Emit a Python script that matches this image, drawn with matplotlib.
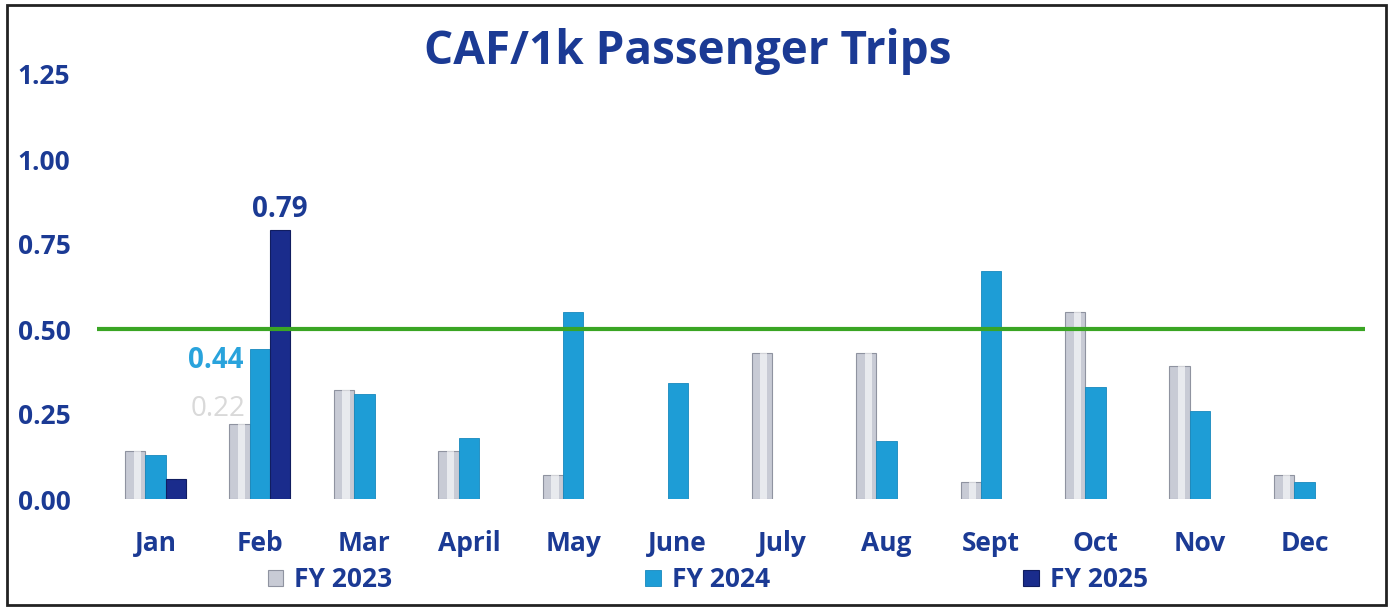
import numpy as np
import matplotlib
matplotlib.use("Agg")
from matplotlib import pyplot as plt
from matplotlib.patches import Rectangle

# data
months = ['Jan', 'Feb', 'Mar', 'April', 'May', 'June', 'July',
          'Aug', 'Sept', 'Oct', 'Nov', 'Dec']
fy2023 = [0.14, 0.22, 0.32, 0.14, 0.07, 0.00, 0.43, 0.43, 0.05, 0.55, 0.39, 0.07]
fy2024 = [0.13, 0.44, 0.31, 0.18, 0.55, 0.34, 0.00, 0.17, 0.67, 0.33, 0.26, 0.05]
fy2025 = [0.06, 0.79, 0.00, 0.00, 0.00, 0.00, 0.00, 0.00, 0.00, 0.00, 0.00, 0.00]
target = 0.50
yticks = [0.00, 0.25, 0.50, 0.75, 1.00, 1.25]

navy = '#1b3a94'
c23 = '#c8cbd5'
c24 = '#1e9dd6'
c25 = '#1a2c8c'

plt.rcParams['font.family'] = ['Open Sans', 'DejaVu Sans']

fig = plt.figure(figsize=(13.93, 6.09), dpi=100)
ax = fig.add_axes([97 / 1393, 110 / 609, 1268 / 1393, 425 / 609])

x = np.arange(len(months))
w = 0.195

b23 = ax.bar(x - w, fy2023, w, color=c23, edgecolor='#8f93a0', linewidth=0.8,
             label='FY 2023', zorder=2)
# highlight strip for the silver look
hl = ax.bar(x - w + w * 0.1, fy2023, w * 0.35, color='white', alpha=0.6,
            linewidth=0, zorder=3)
b24 = ax.bar(x, fy2024, w, color=c24, edgecolor='#1788bd', linewidth=0.6,
             label='FY 2024', zorder=2)
b25 = ax.bar(x + w, fy2025, w, color=c25, edgecolor='#111d60', linewidth=0.8,
             label='FY 2025', zorder=2)

# hide the outlines of empty (zero) bars
for bars, vals in ((b23, fy2023), (b24, fy2024), (b25, fy2025)):
    for p, v in zip(bars.patches, vals):
        if v == 0:
            p.set_visible(False)

ax.axhline(target, color='#3aa524', linewidth=3, zorder=4)

# data labels (Feb only)
ax.text(x[1] - 0.14, fy2023[1] + 0.005, '0.22', color='#d9d9d9',
        fontsize=20, ha='right', va='bottom')
ax.text(x[1] - 0.16, fy2024[1] + 0.01, '0.44', color='#29a3dc',
        fontsize=20, fontweight='bold', ha='right', va='top')
ax.text(x[1] + w, fy2025[1] + 0.02, '0.79', color=navy,
        fontsize=20, fontweight='bold', ha='center', va='bottom')

ax.set_xlim(-0.56, 11.58)
ax.set_ylim(0, 1.25)
ax.set_xticks(x)
ax.set_xticklabels(months)
ax.set_yticks(yticks)
ax.set_yticklabels(['{:.2f}'.format(v) for v in yticks])
for lab in ax.get_xticklabels():
    lab.set_color(navy)
    lab.set_fontweight('bold')
    lab.set_fontsize(19)
for lab in ax.get_yticklabels():
    lab.set_color(navy)
    lab.set_fontweight('bold')
    lab.set_fontsize(19)
    lab.set_horizontalalignment('left')
ax.tick_params(axis='y', length=0, pad=57)
ax.tick_params(axis='x', length=0, pad=22)
for s in ax.spines.values():
    s.set_visible(False)

fig.text(0.494, 0.916, 'CAF/1k Passenger Trips', color=navy, fontsize=33,
         fontweight='bold', ha='center', va='center')

leg = fig.legend(handles=[b23, b24, b25], loc='center', ncol=3,
                 bbox_to_anchor=(0.508, 0.048), frameon=False,
                 columnspacing=9.6, handlelength=0.6, handleheight=0.6,
                 handletextpad=0.4, prop={'weight': 'bold', 'size': 19})
for t in leg.get_texts():
    t.set_color(navy)

fig.patches.append(Rectangle((7 / 1393, 4 / 609), 1379 / 1393, 600 / 609,
                             transform=fig.transFigure, fill=False,
                             edgecolor='#222222', linewidth=2))

fig.savefig('out.png', dpi=100)
